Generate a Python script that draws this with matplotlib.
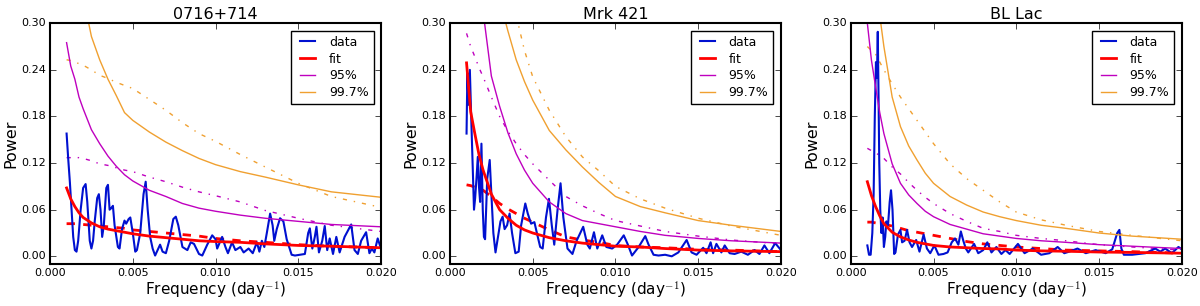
import numpy as np
import matplotlib
matplotlib.use("Agg")
import matplotlib.pyplot as plt

# shared frequency grid for the smooth model / significance curves (day^-1)
grid_f = [0.0010, 0.00125, 0.0015, 0.00175, 0.0020, 0.0025, 0.0030, 0.0035, 0.0040, 0.0045,
          0.0050, 0.0060, 0.0070, 0.0080, 0.0090, 0.0100, 0.0115, 0.0130, 0.0150, 0.0170, 0.0200]

titles = ["0716+714", "Mrk 421", "BL Lac"]

# ---- 0716+714 ----
data_f_0716 = [0.00100, 0.00110, 0.00120, 0.00130, 0.00140, 0.00150, 0.00160, 0.00170, 0.00185, 0.00200,
               0.00215, 0.00225, 0.00240, 0.00250, 0.00260, 0.00270, 0.00285, 0.00295, 0.00305, 0.00315,
               0.00325, 0.00340, 0.00350, 0.00360, 0.00370, 0.00380, 0.00390, 0.00410, 0.00420, 0.00435,
               0.00450, 0.00460, 0.00475, 0.00485, 0.00500, 0.00515, 0.00525, 0.00545, 0.00565, 0.00578,
               0.00590, 0.00605, 0.00620, 0.00635, 0.00650, 0.00665, 0.00680, 0.00700, 0.00720, 0.00745,
               0.00760, 0.00775, 0.00800, 0.00830, 0.00850, 0.00870, 0.00900, 0.00920, 0.00950, 0.00980,
               0.01000, 0.01010, 0.01040, 0.01060, 0.01075, 0.01100, 0.01120, 0.01150, 0.01170, 0.01200,
               0.01225, 0.01250, 0.01265, 0.01280, 0.01295, 0.01310, 0.01330, 0.01345, 0.01355, 0.01370,
               0.01390, 0.01410, 0.01430, 0.01460, 0.01480, 0.01510, 0.01540, 0.01560, 0.01570, 0.01585,
               0.01600, 0.01610, 0.01625, 0.01645, 0.01660, 0.01675, 0.01690, 0.01710, 0.01730, 0.01750,
               0.01780, 0.01820, 0.01840, 0.01860, 0.01880, 0.01910, 0.01930, 0.01945, 0.01960, 0.01980,
               0.02000]
data_p_0716 = [0.158, 0.125, 0.095, 0.060, 0.025, 0.008, 0.006, 0.020, 0.060, 0.088,
               0.093, 0.070, 0.020, 0.010, 0.020, 0.045, 0.075, 0.080, 0.060, 0.025,
               0.040, 0.088, 0.092, 0.060, 0.062, 0.065, 0.040, 0.012, 0.010, 0.035,
               0.046, 0.042, 0.048, 0.050, 0.030, 0.006, 0.008, 0.030, 0.080, 0.096,
               0.060, 0.025, 0.010, 0.001, 0.008, 0.015, 0.006, 0.004, 0.020, 0.048,
               0.051, 0.040, 0.012, 0.008, 0.018, 0.016, 0.003, 0.001, 0.015, 0.027,
               0.022, 0.010, 0.025, 0.012, 0.004, 0.018, 0.008, 0.012, 0.005, 0.010,
               0.004, 0.018, 0.006, 0.020, 0.012, 0.030, 0.055, 0.040, 0.020, 0.035,
               0.049, 0.045, 0.022, 0.002, 0.001, 0.002, 0.003, 0.030, 0.036, 0.010,
               0.025, 0.038, 0.005, 0.020, 0.039, 0.008, 0.023, 0.003, 0.025, 0.005,
               0.025, 0.041, 0.008, 0.003, 0.020, 0.031, 0.004, 0.010, 0.005, 0.023,
               0.010]
fit_0716 = [0.088, 0.074, 0.064, 0.056, 0.050, 0.043, 0.038, 0.035, 0.033, 0.031,
            0.029, 0.026, 0.024, 0.022, 0.020, 0.019, 0.018, 0.016, 0.014, 0.013, 0.011]
fit2_0716 = [0.042, 0.042, 0.042, 0.042, 0.041, 0.040, 0.039, 0.038, 0.037, 0.036,
             0.034, 0.032, 0.030, 0.028, 0.026, 0.023, 0.020, 0.018, 0.015, 0.013, 0.011]
c95_0716 = [0.275, 0.245, 0.228, 0.205, 0.190, 0.163, 0.145, 0.129, 0.116, 0.105,
            0.097, 0.085, 0.077, 0.068, 0.062, 0.058, 0.053, 0.049, 0.045, 0.041, 0.038]
c95b_0716 = [0.127, 0.127, 0.127, 0.127, 0.126, 0.123, 0.119, 0.117, 0.114, 0.111,
             0.109, 0.102, 0.096, 0.089, 0.083, 0.078, 0.070, 0.059, 0.049, 0.040, 0.032]
c997_0716 = [np.nan, np.nan, np.nan, np.nan, 0.335, 0.283, 0.253, 0.228, 0.207, 0.185,
             0.175, 0.160, 0.147, 0.136, 0.126, 0.118, 0.109, 0.102, 0.092, 0.083, 0.076]
c997b_0716 = [0.253, 0.252, 0.250, 0.248, 0.246, 0.240, 0.233, 0.229, 0.224, 0.220,
              0.216, 0.202, 0.188, 0.172, 0.158, 0.148, 0.131, 0.115, 0.094, 0.077, 0.063]

# ---- Mrk 421 ----
data_f_mrk = [0.00100, 0.00105, 0.00112, 0.00120, 0.00128, 0.00136, 0.00145, 0.00152, 0.00160, 0.00168,
              0.00175, 0.00182, 0.00190, 0.00198, 0.00205, 0.00212, 0.00225, 0.00240, 0.00250, 0.00262,
              0.00275, 0.00290, 0.00305, 0.00318, 0.00330, 0.00345, 0.00360, 0.00375, 0.00395, 0.00415,
              0.00430, 0.00455, 0.00470, 0.00490, 0.00510, 0.00525, 0.00545, 0.00560, 0.00580, 0.00598,
              0.00615, 0.00630, 0.00650, 0.00668, 0.00685, 0.00710, 0.00740, 0.00765, 0.00805, 0.00830,
              0.00845, 0.00870, 0.00890, 0.00920, 0.00945, 0.00980, 0.01010, 0.01050, 0.01075, 0.01100,
              0.01140, 0.01180, 0.01200, 0.01230, 0.01260, 0.01300, 0.01340, 0.01380, 0.01430, 0.01460,
              0.01490, 0.01530, 0.01550, 0.01575, 0.01590, 0.01610, 0.01640, 0.01660, 0.01690, 0.01720,
              0.01760, 0.01800, 0.01840, 0.01870, 0.01900, 0.01930, 0.01965, 0.02000]
data_p_mrk = [0.158, 0.236, 0.195, 0.240, 0.180, 0.124, 0.060, 0.075, 0.100, 0.128,
              0.090, 0.070, 0.145, 0.060, 0.025, 0.022, 0.100, 0.124, 0.080, 0.030,
              0.005, 0.025, 0.045, 0.051, 0.035, 0.040, 0.055, 0.030, 0.004, 0.006,
              0.040, 0.068, 0.055, 0.042, 0.044, 0.030, 0.012, 0.010, 0.050, 0.074,
              0.040, 0.015, 0.060, 0.094, 0.050, 0.010, 0.003, 0.020, 0.038, 0.015,
              0.010, 0.031, 0.010, 0.027, 0.012, 0.010, 0.015, 0.027, 0.015, 0.001,
              0.012, 0.026, 0.015, 0.002, 0.001, 0.002, 0.000, 0.005, 0.021, 0.005,
              0.002, 0.011, 0.004, 0.018, 0.004, 0.016, 0.005, 0.014, 0.004, 0.003,
              0.006, 0.002, 0.008, 0.003, 0.014, 0.004, 0.017, 0.008]
fit_mrk = [0.249, 0.186, 0.158, 0.131, 0.111, 0.080, 0.060, 0.049, 0.040, 0.034,
           0.030, 0.024, 0.020, 0.017, 0.015, 0.013, 0.012, 0.010, 0.008, 0.007, 0.006]
fit2_mrk = [0.092, 0.091, 0.089, 0.087, 0.085, 0.077, 0.068, 0.061, 0.055, 0.049,
            0.044, 0.034, 0.025, 0.021, 0.018, 0.014, 0.012, 0.011, 0.009, 0.008, 0.006]
c95_mrk = [np.nan, np.nan, np.nan, np.nan, 0.315, 0.232, 0.193, 0.159, 0.132, 0.111,
           0.094, 0.070, 0.055, 0.046, 0.042, 0.038, 0.032, 0.027, 0.023, 0.020, 0.017]
c95b_mrk = [0.287, 0.270, 0.257, 0.243, 0.231, 0.205, 0.180, 0.161, 0.145, 0.131,
            0.119, 0.098, 0.077, 0.065, 0.055, 0.046, 0.039, 0.032, 0.026, 0.021, 0.016]
c997_mrk = [np.nan, np.nan, np.nan, np.nan, np.nan, np.nan, 0.330, 0.290, 0.253, 0.225,
            0.201, 0.162, 0.137, 0.115, 0.095, 0.077, 0.064, 0.056, 0.046, 0.040, 0.032]
c997b_mrk = [np.nan, np.nan, np.nan, np.nan, np.nan, np.nan, np.nan, np.nan, 0.310, 0.265,
             0.231, 0.188, 0.154, 0.128, 0.110, 0.090, 0.074, 0.062, 0.049, 0.039, 0.027]

# ---- BL Lac ----
data_f_bll = [0.00100, 0.00110, 0.00120, 0.00130, 0.00138, 0.00145, 0.00152, 0.00158, 0.00163, 0.00168,
              0.00172, 0.00178, 0.00185, 0.00192, 0.00200, 0.00208, 0.00215, 0.00225, 0.00235, 0.00243,
              0.00252, 0.00262, 0.00270, 0.00285, 0.00300, 0.00310, 0.00325, 0.00340, 0.00355, 0.00370,
              0.00395, 0.00415, 0.00440, 0.00460, 0.00480, 0.00505, 0.00530, 0.00560, 0.00585, 0.00610,
              0.00630, 0.00650, 0.00665, 0.00680, 0.00695, 0.00710, 0.00745, 0.00770, 0.00800, 0.00825,
              0.00850, 0.00880, 0.00910, 0.00935, 0.00960, 0.01010, 0.01050, 0.01100, 0.01150, 0.01200,
              0.01250, 0.01290, 0.01320, 0.01370, 0.01420, 0.01480, 0.01540, 0.01580, 0.01610, 0.01623,
              0.01635, 0.01650, 0.01700, 0.01780, 0.01840, 0.01870, 0.01900, 0.01940, 0.01980, 0.02000]
data_p_bll = [0.014, 0.002, 0.002, 0.030, 0.080, 0.180, 0.250, 0.230, 0.289, 0.200,
              0.120, 0.060, 0.030, 0.050, 0.012, 0.025, 0.045, 0.040, 0.070, 0.085,
              0.060, 0.003, 0.005, 0.028, 0.034, 0.018, 0.020, 0.034, 0.018, 0.012,
              0.021, 0.006, 0.028, 0.010, 0.004, 0.014, 0.002, 0.003, 0.005, 0.018,
              0.023, 0.015, 0.032, 0.020, 0.010, 0.005, 0.016, 0.004, 0.008, 0.018,
              0.005, 0.012, 0.003, 0.008, 0.003, 0.016, 0.004, 0.010, 0.002, 0.004,
              0.012, 0.004, 0.006, 0.010, 0.004, 0.008, 0.004, 0.009, 0.030, 0.034,
              0.010, 0.002, 0.002, 0.004, 0.010, 0.006, 0.010, 0.004, 0.012, 0.009]
fit_bll = [0.096, 0.078, 0.064, 0.052, 0.042, 0.031, 0.025, 0.021, 0.018, 0.016,
           0.014, 0.012, 0.011, 0.010, 0.0095, 0.008, 0.007, 0.0065, 0.0055, 0.005, 0.004]
fit2_bll = [0.044, 0.044, 0.043, 0.042, 0.041, 0.039, 0.036, 0.033, 0.031, 0.029,
            0.027, 0.023, 0.019, 0.016, 0.014, 0.012, 0.010, 0.008, 0.007, 0.006, 0.004]
c95_bll = [0.300, 0.252, 0.218, 0.185, 0.158, 0.119, 0.094, 0.079, 0.068, 0.058,
           0.051, 0.041, 0.035, 0.029, 0.026, 0.023, 0.020, 0.018, 0.015, 0.013, 0.010]
c95b_bll = [0.139, 0.136, 0.133, 0.130, 0.126, 0.115, 0.106, 0.095, 0.085, 0.076,
            0.068, 0.055, 0.045, 0.036, 0.032, 0.027, 0.023, 0.020, 0.015, 0.012, 0.008]
c997_bll = [np.nan, np.nan, 0.360, 0.310, 0.270, 0.205, 0.167, 0.142, 0.124, 0.107,
            0.094, 0.077, 0.066, 0.057, 0.051, 0.046, 0.040, 0.036, 0.030, 0.026, 0.022]
c997b_bll = [0.270, 0.265, 0.260, 0.250, 0.240, 0.222, 0.205, 0.190, 0.175, 0.160,
             0.145, 0.119, 0.100, 0.085, 0.070, 0.057, 0.047, 0.040, 0.032, 0.027, 0.020]

panels = [
    (data_f_0716, data_p_0716, fit_0716, fit2_0716, c95_0716, c95b_0716, c997_0716, c997b_0716),
    (data_f_mrk, data_p_mrk, fit_mrk, fit2_mrk, c95_mrk, c95b_mrk, c997_mrk, c997b_mrk),
    (data_f_bll, data_p_bll, fit_bll, fit2_bll, c95_bll, c95b_bll, c997_bll, c997b_bll),
]

plt.style.use("classic")
plt.rcParams["font.family"] = "DejaVu Sans"

fig = plt.figure(figsize=(12, 3.06), dpi=100, facecolor="white")
lefts = [0.0417, 0.375, 0.709]
orange = "#f0a030"

for i, (df, dp, fit, fit2, c95, c95b, c997, c997b) in enumerate(panels):
    ax = fig.add_axes([lefts[i], 0.137, 0.2758, 0.787])
    ax.plot(grid_f, c997b, "-.", color=orange, lw=1)
    ax.plot(grid_f, c95b, "-.", color="m", lw=1)
    ax.plot(grid_f, fit2, "--", color="r", lw=2)
    ax.plot(df, dp, "-", color="#0010d0", lw=1.5, label="data")
    ax.plot(grid_f, fit, "-", color="r", lw=2, label="fit")
    ax.plot(grid_f, c95, "-", color="m", lw=1, label="95%")
    ax.plot(grid_f, c997, "-", color=orange, lw=1, label="99.7%")

    ax.set_xlim(0.0, 0.02)
    ax.set_ylim(-0.01, 0.30)
    ax.set_xticks([0.0, 0.005, 0.01, 0.015, 0.02])
    ax.set_xticklabels(["0.000", "0.005", "0.010", "0.015", "0.020"])
    ax.set_yticks([0.0, 0.06, 0.12, 0.18, 0.24, 0.30])
    ax.set_yticklabels(["0.00", "0.06", "0.12", "0.18", "0.24", "0.30"])
    ax.tick_params(labelsize=8, direction="in", length=4, pad=3)
    for s in ax.spines.values():
        s.set_linewidth(1.5)
    ax.set_title(titles[i], fontsize=11.5, pad=3)
    ax.set_xlabel("Frequency (day$^{-1}$)", fontsize=11, labelpad=1)
    ax.set_ylabel("Power", fontsize=11.5, labelpad=2)
    ax.legend(loc="upper right", fontsize=9, handlelength=1.8, borderaxespad=0.6,
              labelspacing=0.3, frameon=True)

fig.savefig("out.png", dpi=100, facecolor="white")
